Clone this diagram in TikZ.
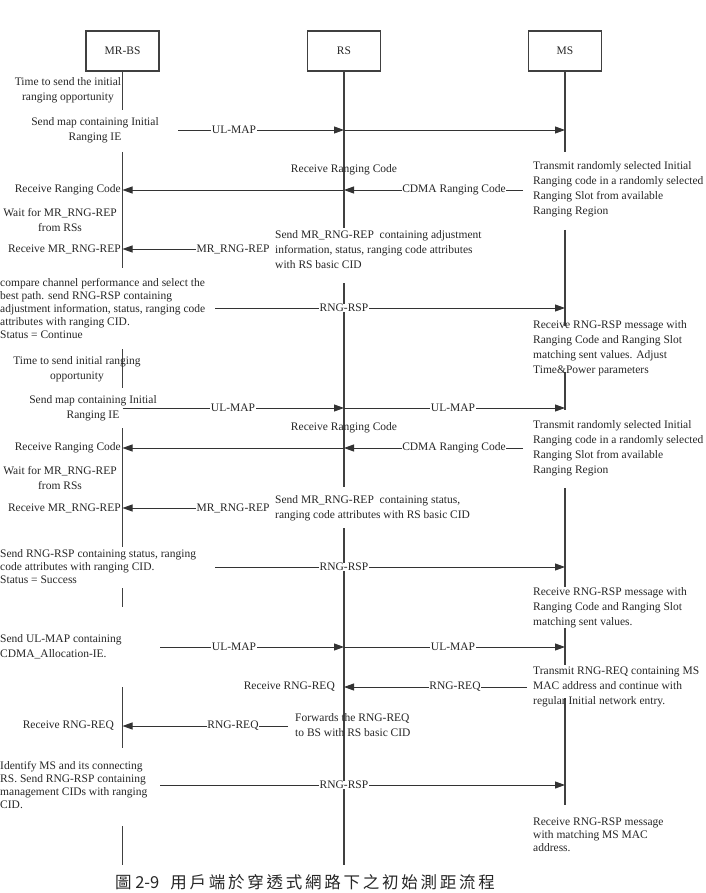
\documentclass[tikz,border=0pt]{standalone}
\usepackage{fontspec}
\setmainfont{Liberation Serif}
\newfontfamily\cjkfont{Noto Sans CJK TC}
\usetikzlibrary{arrows.meta}

\begin{document}
\begin{tikzpicture}[x=1pt,y=-1pt,
	head/.style={draw=black!75,line width=1.2pt,minimum width=73pt,minimum height=40pt,inner sep=0pt,font=\fontsize{11.5}{14}\selectfont,text=black!85},
	life/.style={draw=black!75,line width=1.2pt},
	msg/.style={draw=black!80,line width=0.9pt,-{Triangle[length=10pt,width=7pt]}},
	lbl/.style={fill=white,inner sep=0.6pt,font=\fontsize{11.5}{14}\selectfont,text=black!85},
	txt/.style={inner sep=0pt,font=\fontsize{11.5}{15}\selectfont,text=black!85},
	tight/.style={inner sep=0pt,font=\fontsize{11.5}{13}\selectfont,text=black!85}]
		\useasboundingbox (0,0) rectangle (705,893);
		
		% the three stations
		\node[head] (bs) at (122.5,51) {MR-BS};
		\node[head] (rs) at (344,51) {RS};
		\node[head] (ms) at (565,51) {MS};
		
		% life lines
		\draw[life] (bs.south) -- (bs |- 0,110);
		\draw[life] (bs |- 0,152) -- (bs |- 0,268);
		\draw[life] (bs |- 0,349) -- (bs |- 0,388);
		\draw[life] (bs |- 0,428) -- (bs |- 0,547);
		\draw[life] (bs |- 0,588) -- (bs |- 0,607);
		\draw[life] (bs |- 0,687) -- (bs |- 0,748);
		\draw[life] (bs |- 0,826) -- (bs |- 0,865);
		\draw[life] (rs.south) -- (rs |- 0,228);
		\draw[life] (rs |- 0,283) -- (rs |- 0,487);
		\draw[life] (rs |- 0,528) -- (rs |- 0,865);
		\draw[life] (ms.south) -- (ms |- 0,152);
		\draw[life] (ms |- 0,230) -- (ms |- 0,326);
		\draw[life] (ms |- 0,372) -- (ms |- 0,410);
		\draw[life] (ms |- 0,488) -- (ms |- 0,587);
		\draw[life] (ms |- 0,628) -- (ms |- 0,665);
		\draw[life] (ms |- 0,698) -- (ms |- 0,805);
		
		% free ends of messages
		\coordinate (map1) at (178,130);
		\coordinate (cdma1) at (523,190);
		\coordinate (rsp1) at (215,308);
		\coordinate (cdma2) at (523,448);
		\coordinate (rsp2) at (215,567);
		\coordinate (map3) at (160,647);
		\coordinate (req1) at (527,687);
		\coordinate (req2) at (288,726);
		\coordinate (rsp3) at (160,785);
		
		% first ranging round
		\node[txt,align=center] (t1) at (68,90.5) {Time to send the initial\\ranging opportunity};
		\node[txt,align=center] (t2) at (95,130) {Send map containing Initial\\Ranging IE};
		\draw[msg] (map1) -- (rs |- map1);
		\draw[msg] (rs |- map1) -- (ms |- map1);
		\node[lbl] (m1) at (234,130) {UL-MAP};
		
		\node[txt] (t3) at (344,170) {Receive Ranging Code};
		\node[txt,anchor=west,align=left] (t4) at (533,189.5) {Transmit randomly selected Initial\\Ranging code in a randomly selected\\Ranging Slot from available\\Ranging Region};
		\draw[msg] (cdma1) -- (rs |- cdma1);
		\draw[msg] (rs |- cdma1) -- (bs |- cdma1);
		\node[lbl] (c1) at (454,190) {CDMA Ranging Code};
		\node[txt,anchor=east] (t5) at (121,190) {Receive Ranging Code};
		
		\node[txt,align=center] (t6) at (60,220.5) {Wait for MR\_RNG-REP\\from RSs};
		\node[lbl] (r1) at (233,249) {MR\_RNG-REP};
		\draw[msg] (r1.west) -- (bs |- r1);
		\node[txt,anchor=east] (t7) at (121,249) {Receive MR\_RNG-REP};
		\node[txt,anchor=west,align=left] (t8) at (275,249.5) {Send MR\_RNG-REP\ \ containing adjustment\\information, status, ranging code attributes\\with RS basic CID};
		
		\node[tight,anchor=west,align=left] (t9) at (0,308.5) {compare channel performance and select the\\best path. send RNG-RSP containing\\adjustment information, status, ranging code\\attributes with ranging CID.\\Status = Continue};
		\draw[msg] (rsp1) -- (ms |- rsp1);
		\node[lbl] (s1) at (344,308) {RNG-RSP};
		\node[txt,anchor=west,align=left] (t10) at (533,348.5) {Receive RNG-RSP message with\\Ranging Code and Ranging Slot\\matching sent values. Adjust\\Time\&Power parameters};
		
		% second ranging round
		\node[txt,align=center] (t11) at (77,369) {Time to send initial ranging\\opportunity};
		\node[txt,align=center] (t12) at (93,408) {Send map containing Initial\\Ranging IE};
		\draw[msg] (bs |- 0,408) -- (rs |- 0,408);
		\draw[msg] (rs |- 0,408) -- (ms |- 0,408);
		\node[lbl] (m2) at (233,408) {UL-MAP};
		\node[lbl] (m3) at (453,408) {UL-MAP};
		
		\node[txt] (t13) at (344,428) {Receive Ranging Code};
		\node[txt,anchor=west,align=left] (t14) at (533,448.5) {Transmit randomly selected Initial\\Ranging code in a randomly selected\\Ranging Slot from available\\Ranging Region};
		\draw[msg] (cdma2) -- (rs |- cdma2);
		\draw[msg] (rs |- cdma2) -- (bs |- cdma2);
		\node[lbl] (c2) at (454,448) {CDMA Ranging Code};
		\node[txt,anchor=east] (t15) at (121,448) {Receive Ranging Code};
		
		\node[txt,align=center] (t16) at (60,478.5) {Wait for MR\_RNG-REP\\from RSs};
		\node[lbl] (r2) at (233,508) {MR\_RNG-REP};
		\draw[msg] (r2.west) -- (bs |- r2);
		\node[txt,anchor=east] (t17) at (121,508) {Receive MR\_RNG-REP};
		\node[txt,anchor=west,align=left] (t18) at (275,508) {Send MR\_RNG-REP\ \ containing status,\\ranging code attributes with RS basic CID};
		
		\node[tight,anchor=west,align=left] (t19) at (0,567) {Send RNG-RSP containing status, ranging\\code attributes with ranging CID.\\Status = Success};
		\draw[msg] (rsp2) -- (ms |- rsp2);
		\node[lbl] (s2) at (344,567) {RNG-RSP};
		\node[txt,anchor=west,align=left] (t20) at (533,607.5) {Receive RNG-RSP message with\\Ranging Code and Ranging Slot\\matching sent values.};
		
		% network entry
		\node[txt,anchor=west,align=left] (t21) at (0,646.5) {Send UL-MAP containing\\CDMA\_Allocation-IE.};
		\draw[msg] (map3) -- (rs |- map3);
		\draw[msg] (rs |- map3) -- (ms |- map3);
		\node[lbl] (m4) at (234,647) {UL-MAP};
		\node[lbl] (m5) at (453,647) {UL-MAP};
		
		\node[txt,anchor=west,align=left] (t23) at (533,686.5) {Transmit RNG-REQ containing MS\\MAC address and continue with\\regular Initial network entry.};
		\draw[msg] (req1) -- (rs |- req1);
		\node[lbl] (q1) at (455,687) {RNG-REQ};
		\node[txt,anchor=east] (t22) at (335,687) {Receive RNG-REQ};
		
		\draw[msg] (req2) -- (bs |- req2);
		\node[lbl] (q2) at (233,726) {RNG-REQ};
		\node[txt,anchor=east] (t24) at (114,726) {Receive RNG-REQ};
		\node[txt,anchor=west,align=left] (t25) at (295,725.5) {Forwards the RNG-REQ\\to BS with RS basic CID};
		
		\node[tight,anchor=west,align=left] (t26) at (0,785.5) {Identify MS and its connecting\\RS. Send RNG-RSP containing\\management CIDs with ranging\\CID.};
		\draw[msg] (rsp3) -- (ms |- rsp3);
		\node[lbl] (s3) at (344,785) {RNG-RSP};
		\node[tight,anchor=west,align=left] (t27) at (533,835) {Receive RNG-RSP message\\with matching MS MAC\\address.};
		
		% caption
		\node[inner sep=0pt,font=\cjkfont\fontsize{16.5}{20}\selectfont,text=black!85] (cap) at (305,882.5) {圖\ 2-9\ \ \ 用\,戶\,端\,於\,穿\,透\,式\,網\,路\,下\,之\,初\,始\,測\,距\,流\,程};
	\end{tikzpicture}
\end{document}
